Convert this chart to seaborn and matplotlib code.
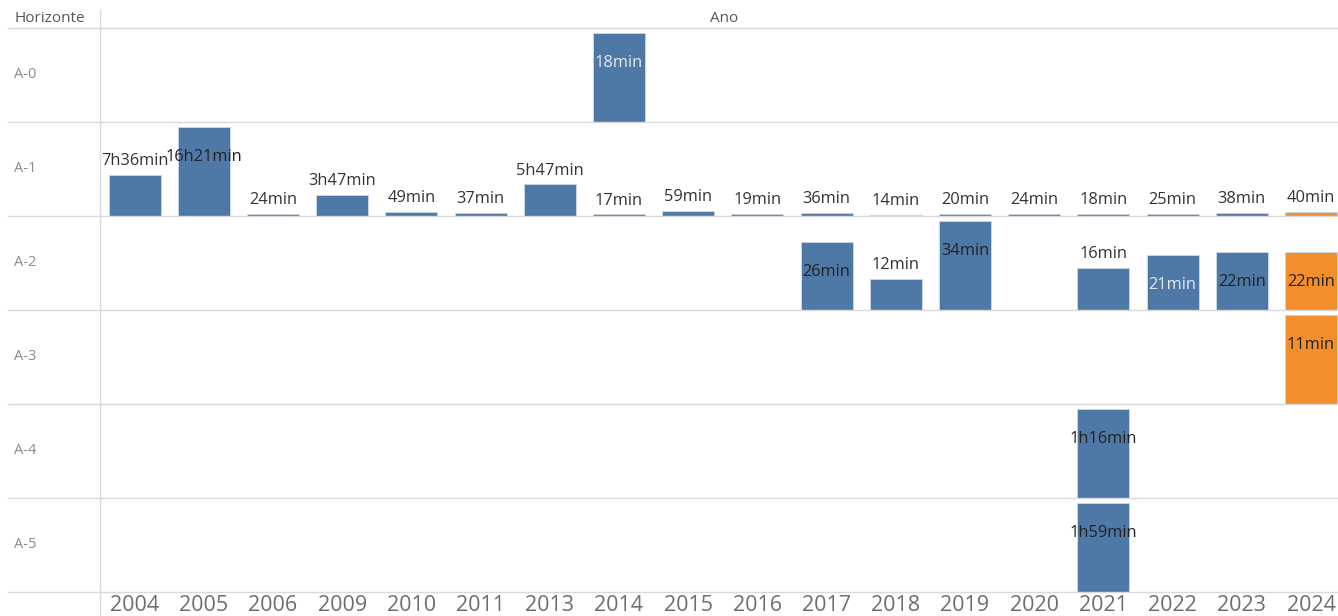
import matplotlib
matplotlib.use("Agg")
import matplotlib.pyplot as plt
from matplotlib.lines import Line2D
import seaborn as sns
import pandas as pd

anos = ["2004", "2005", "2006", "2009", "2010", "2011", "2013", "2014", "2015",
        "2016", "2017", "2018", "2019", "2020", "2021", "2022", "2023", "2024"]
horizontes = ["A-0", "A-1", "A-2", "A-3", "A-4", "A-5"]

# duração em minutos por ano (None = sem dado)
a0 = [None, None, None, None, None, None, None, 18, None,
      None, None, None, None, None, None, None, None, None]
a1 = [456, 981, 24, 227, 49, 37, 347, 17, 59,
      19, 36, 14, 20, 24, 18, 25, 38, 40]
a2 = [None, None, None, None, None, None, None, None, None,
      None, 26, 12, 34, None, 16, 21, 22, 22]
a3 = [None, None, None, None, None, None, None, None, None,
      None, None, None, None, None, None, None, None, 11]
a4 = [None, None, None, None, None, None, None, None, None,
      None, None, None, None, None, 76, None, None, None]
a5 = [None, None, None, None, None, None, None, None, None,
      None, None, None, None, None, 119, None, None, None]

# rótulos que o Tableau pintou em claro
rotulos_claros = {("A-0", "2014"), ("A-2", "2022")}


def fmt(m):
    h, mi = divmod(int(m), 60)
    return f"{h}h{mi}min" if h else f"{mi}min"


linhas = []
for hz, vals in zip(horizontes, [a0, a1, a2, a3, a4, a5]):
    for ano, v in zip(anos, vals):
        if v is not None:
            linhas.append({"Horizonte": hz, "Ano": ano, "min": v})
df = pd.DataFrame(linhas)

azul, laranja = "#4e79a7", "#f28e2b"
pal = {a: (laranja if a == "2024" else azul) for a in anos}

sns.set_theme(style="white")
plt.rcParams["font.family"] = ["Open Sans", "DejaVu Sans"]

W, H = 1338, 616
fig = plt.figure(figsize=(W / 100, H / 100), dpi=100)

x0, col_w = 100, 69.2
topo, alt = 28, 94
n = len(anos)

for i, hz in enumerate(horizontes):
    ax = fig.add_axes([x0 / W, 1 - (topo + alt * (i + 1)) / H, col_w * n / W, alt / H])
    sub = df[df["Horizonte"] == hz]
    sns.barplot(data=sub, x="Ano", y="min", hue="Ano", order=anos, hue_order=anos,
                palette=pal, saturation=1, width=0.75, legend=False, ax=ax,
                edgecolor="#c9d5e3", linewidth=0.7)
    ymax = sub["min"].max() * 1.055
    ax.set_ylim(0, ymax)
    ax.set_xlim(-0.5, n - 0.5)
    for s in ax.spines.values():
        s.set_visible(False)
    ax.set_ylabel("")
    ax.set_yticks([])
    ax.set_xlabel("")
    if i < len(horizontes) - 1:
        ax.set_xticks([])
    else:
        ax.tick_params(axis="x", length=0, pad=2, labelsize=15.5, labelcolor="#6e6e6e")

    for _, r in sub.iterrows():
        xi = anos.index(r["Ano"])
        gap = (1 - r["min"] / ymax) * alt
        if gap > 45:
            off, cor = 10, "#333333"
        else:
            off = -21.5
            cor = "#e4e9f0" if (hz, r["Ano"]) in rotulos_claros else "#222222"
        ax.annotate(fmt(r["min"]), xy=(xi, r["min"]), xytext=(0, off),
                    textcoords="offset points", ha="center", va="center",
                    fontsize=11.8, color=cor)

    fig.text(14 / W, 1 - (topo + alt * i + alt / 2) / H, hz, ha="left", va="center",
             fontsize=10.5, color="#8a8a8a")

# grade de linhas e cabeçalhos
for k in range(len(horizontes) + 1):
    yy = 1 - (topo + alt * k) / H
    fig.add_artist(Line2D([8 / W, 1], [yy, yy], color="#dadada", lw=1))
fig.add_artist(Line2D([x0 / W, x0 / W], [1 - 10 / H, 0], color="#dadada", lw=1))

fig.text(14 / W, 1 - 18 / H, "Horizonte", ha="left", va="center", fontsize=11, color="#555555")
fig.text(724 / W, 1 - 18 / H, "Ano", ha="center", va="center", fontsize=11, color="#555555")

fig.savefig("out.png", dpi=100)
